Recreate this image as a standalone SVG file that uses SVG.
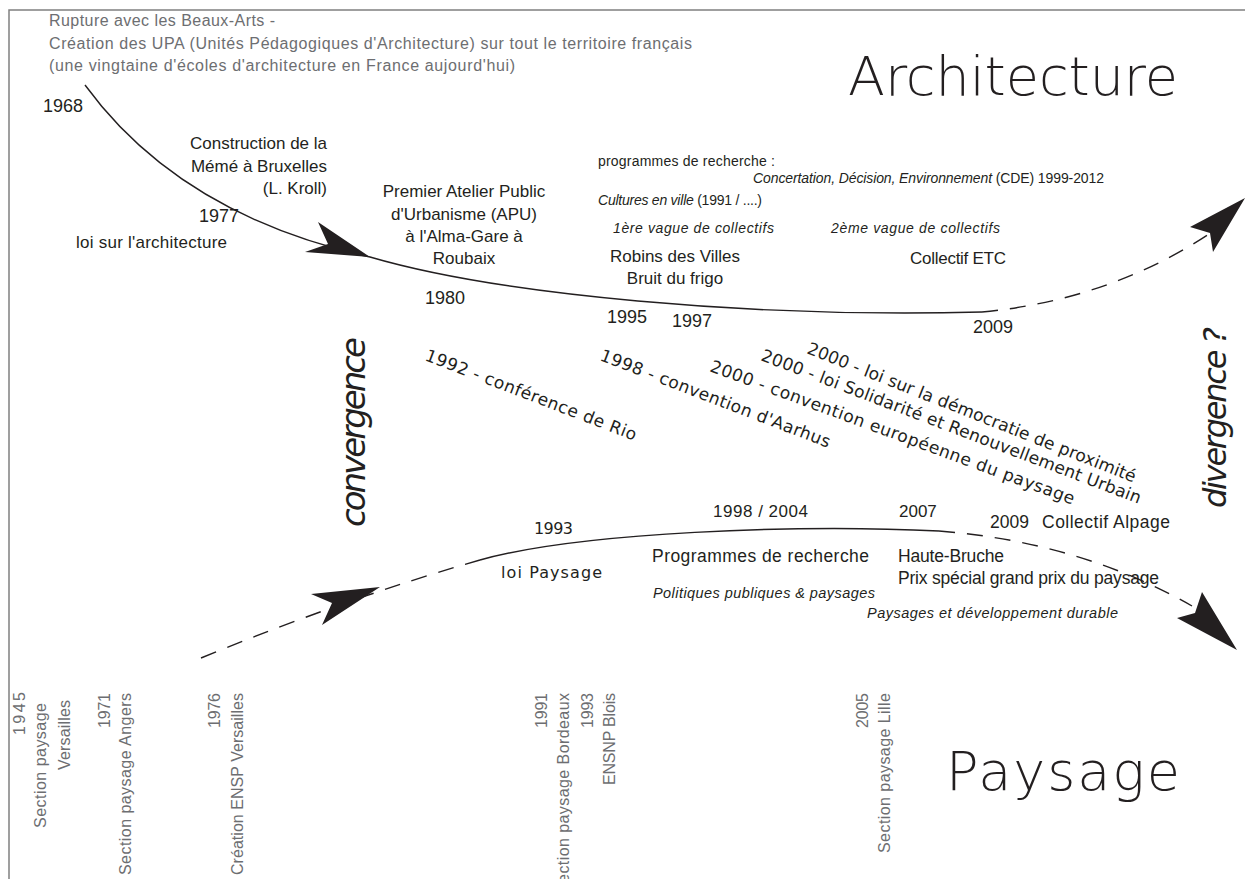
<svg xmlns="http://www.w3.org/2000/svg" width="1245" height="879" viewBox="0 0 1245 879">
<style>
.g{font-family:"Liberation Sans",Arial,sans-serif;fill:#6d6e71;font-size:16px}
.b{font-family:"Liberation Sans",Arial,sans-serif;fill:#231f20}
.cg{font-family:"DejaVu Sans",sans-serif;fill:#231f20}
.thin{font-weight:200}
.it{font-style:italic}
.curve{fill:none;stroke:#231f20;stroke-width:1.4}
.dash{stroke-dasharray:16 12}
.head{fill:#231f20}
.frame{fill:none;stroke:#808080;stroke-width:1.5}
</style>
<rect width="1245" height="879" fill="#ffffff"/>
<path class="frame" d="M9,879 V10 H1245"/>

<g id="connectors">
  <path class="curve" d="M85,85 Q180,215 370,257 C500,295 750,318 982,312"/>
  <path class="curve dash" d="M982,312 Q1110,300 1212,232"/>
  <path class="curve dash" d="M201,658 Q350,597 480,560"/>
  <path class="curve" d="M480,560 C580,532 800,524 939,531"/>
  <path class="curve dash" d="M939,531 Q1080,542 1192,606"/>
  <polygon class="head" points="370,257 318,222 328,244 305,252"/>
  <polygon class="head" points="1245,198 1190,227 1210,233 1213,252"/>
  <polygon class="head" points="380,587 311,594 332,603 322,625"/>
  <polygon class="head" points="1237,650 1177,618 1195,613 1202,592"/>
</g>

<g id="title-architecture"><text class="cg thin" x="848" y="95" font-size="54" textLength="330">Architecture</text></g>
<g id="title-paysage"><text class="cg thin" x="946" y="790" font-size="54" textLength="234">Paysage</text></g>

<g id="n1968">
  <text class="g" x="49" y="26" textLength="226">Rupture avec les Beaux-Arts -</text>
  <text class="g" x="49" y="49" textLength="643">Création des UPA (Unités Pédagogiques d'Architecture) sur tout le territoire français</text>
  <text class="g" x="49" y="71" textLength="466">(une vingtaine d'écoles d'architecture en France aujourd'hui)</text>
  <text class="b" x="43" y="112" font-size="18">1968</text>
</g>

<g id="n-kroll" class="b" font-size="17" text-anchor="end">
  <text x="327" y="149">Construction de la</text>
  <text x="327" y="172">Mémé à Bruxelles</text>
  <text x="327" y="194">(L. Kroll)</text>
</g>

<g id="n1977">
  <text class="b" x="199" y="222" font-size="18">1977</text>
  <text class="b" x="76" y="248" font-size="17" textLength="151">loi sur l'architecture</text>
</g>

<g id="n-apu" class="b" font-size="17" text-anchor="middle">
  <text x="464" y="197">Premier Atelier Public</text>
  <text x="464" y="220">d'Urbanisme (APU)</text>
  <text x="464" y="242">à l'Alma-Gare à</text>
  <text x="464" y="264">Roubaix</text>
</g>
<g id="n1980"><text class="b" x="425" y="304" font-size="18">1980</text></g>

<g id="n-programmes" class="b" font-size="14">
  <text x="598" y="166" textLength="177">programmes de recherche :</text>
  <text x="753" y="183" textLength="351"><tspan class="it">Concertation, Décision, Environnement</tspan> (CDE)  1999-2012</text>
  <text x="598" y="205" textLength="164"><tspan class="it">Cultures en ville</tspan> (1991 / ....)</text>
</g>

<g id="n-vague1">
  <text class="b it" x="613" y="233" font-size="14" fill="#333" textLength="161">1ère vague de collectifs</text>
  <text class="b" x="675" y="262" font-size="17" text-anchor="middle">Robins des Villes</text>
  <text class="b" x="675" y="284" font-size="17" text-anchor="middle">Bruit du frigo</text>
</g>
<g id="n-vague2">
  <text class="b it" x="831" y="233" font-size="14" fill="#333" textLength="169">2ème vague de collectifs</text>
  <text class="b" x="910" y="264" font-size="17" textLength="96">Collectif ETC</text>
</g>

<g id="n-years-top" class="b" font-size="18">
  <text x="607" y="323">1995</text>
  <text x="672" y="327">1997</text>
  <text x="973" y="333">2009</text>
</g>

<g id="n-convergence"><text class="cg it" transform="translate(365,527) rotate(-90)" font-size="34" textLength="190">convergence</text></g>
<g id="n-divergence"><text class="cg it" transform="translate(1226,508) rotate(-90)" font-size="32" textLength="181">divergence ?</text></g>

<g id="n-diagonals" class="cg" font-size="17" fill="#333">
  <text transform="translate(424,360) rotate(21)" textLength="225">1992 - conférence de Rio</text>
  <text transform="translate(599,360) rotate(21)" textLength="245">1998 - convention d'Aarhus</text>
  <text transform="translate(709,371) rotate(20.2)" textLength="387">2000 - convention européenne du paysage</text>
  <text transform="translate(760,360) rotate(20.8)" textLength="405">2000 - loi Solidarité et Renouvellement Urbain</text>
  <text transform="translate(806,353) rotate(21.6)" textLength="352">2000 - loi sur la démocratie de proximité</text>
</g>

<g id="n1993">
  <text class="cg" x="534" y="534" font-size="16" textLength="39">1993</text>
  <text class="cg" x="501" y="578" font-size="16" textLength="101">loi Paysage</text>
</g>
<g id="n1998-2004">
  <text class="b" x="713" y="517" font-size="17" textLength="95">1998 / 2004</text>
  <text class="b" x="652" y="562" font-size="17.5" textLength="217">Programmes de recherche</text>
  <text class="b it" x="653" y="598" font-size="14.5" fill="#333" textLength="222">Politiques publiques &amp; paysages</text>
</g>
<g id="n2007">
  <text class="b" x="899" y="517" font-size="17">2007</text>
  <text class="b" x="898" y="562" font-size="17.5" textLength="106">Haute-Bruche</text>
  <text class="b" x="898" y="584" font-size="17.5" textLength="261">Prix spécial grand prix du paysage</text>
  <text class="b it" x="867" y="618" font-size="14.5" fill="#333" textLength="251">Paysages et développement durable</text>
</g>
<g id="n2009-alpage">
  <text class="b" x="990" y="528" font-size="17.5">2009</text>
  <text class="b" x="1042" y="528" font-size="17.5" textLength="128">Collectif Alpage</text>
</g>

<g id="n-ecoles" class="g" font-size="16.5" text-anchor="end">
  <text transform="translate(25,692) rotate(-90)" textLength="43">1945</text>
  <text transform="translate(46,703) rotate(-90)" textLength="125">Section paysage</text>
  <text transform="translate(70,700) rotate(-90)" textLength="70">Versailles</text>
  <text transform="translate(110,693) rotate(-90)" textLength="35">1971</text>
  <text transform="translate(131,693) rotate(-90)" textLength="182">Section paysage Angers</text>
  <text transform="translate(220,693) rotate(-90)" textLength="35">1976</text>
  <text transform="translate(243,693) rotate(-90)" textLength="182">Création ENSP Versailles</text>
  <text transform="translate(547,693) rotate(-90)" textLength="35">1991</text>
  <text transform="translate(569,693) rotate(-90)" textLength="201">Section paysage Bordeaux</text>
  <text transform="translate(593,693) rotate(-90)" textLength="35">1993</text>
  <text transform="translate(615,693) rotate(-90)" textLength="92">ENSNP Blois</text>
  <text transform="translate(868,693) rotate(-90)" textLength="35">2005</text>
  <text transform="translate(890,693) rotate(-90)" textLength="160">Section paysage Lille</text>
</g>
</svg>
